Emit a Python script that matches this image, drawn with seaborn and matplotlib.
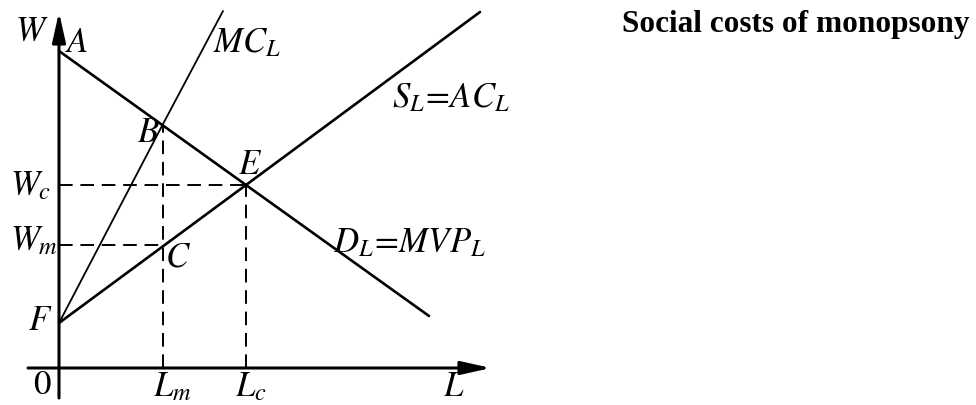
import seaborn as sns
import pandas as pd
import matplotlib.pyplot as plt

sns.set_style("white")
plt.rcParams["mathtext.fontset"] = "stix"
plt.rcParams["font.family"] = ["Liberation Serif", "DejaVu Serif"]
plt.rcParams["text.color"] = "black"

# key points of the diagram (arbitrary units)
F = 4.5       # intercept of supply and MC
A = 31.7      # intercept of demand
Lm = 10.4
Lc = 18.7
Wm = 12.3
Wc = 18.3
B = 24.4      # MC = demand at Lm

# curve endpoints
supply_x = [0, Lc, 42.1]
supply_y = [F, Wc, 35.6]
demand_x = [0, Lc, 37.0]
demand_y = [A, Wc, 5.2]
mc_x = [0, Lm, 16.4]
mc_y = [F, B, 35.7]

fig = plt.figure(figsize=(9.76, 4.05), dpi=100)
ax = fig.add_axes([0, 0, 1, 1])
ax.set_xlim(-5.9, 91.7)
ax.set_ylim(-3.7, 36.8)
ax.axis("off")

# axes with arrows
arrow = dict(arrowstyle="-|>,head_length=0.9,head_width=0.2", lw=2.2,
             color="black", mutation_scale=20, shrinkA=0, shrinkB=0)
ax.annotate("", xy=(0, 35.6), xytext=(0, -3.0), arrowprops=arrow)
ax.annotate("", xy=(43.2, 0), xytext=(-3.1, 0), arrowprops=arrow)

sns.lineplot(x=supply_x, y=supply_y, sort=False, color="black", linewidth=1.9, ax=ax)
sns.lineplot(x=demand_x, y=demand_y, sort=False, color="black", linewidth=1.9, ax=ax)
sns.lineplot(x=mc_x, y=mc_y, sort=False, color="black", linewidth=1.3, ax=ax)

dash = (0, (7, 4))
ax.plot([0, Lc], [Wc, Wc], color="black", lw=1.4, linestyle=dash)
ax.plot([0, Lm], [Wm, Wm], color="black", lw=1.4, linestyle=dash)
ax.plot([Lm, Lm], [0, B], color="black", lw=1.4, linestyle=dash)
ax.plot([Lc, Lc], [0, Wc], color="black", lw=1.4, linestyle=dash)

fs = 25
ax.text(-2.7, 33.6, "$W$", fontsize=fs, ha="center", va="center")
ax.text(1.8, 32.5, "$A$", fontsize=fs, ha="center", va="center")
ax.text(15.4, 31.6, "$MC_L$", fontsize=fs, ha="left", va="baseline")
ax.text(8.9, 23.4, "$B$", fontsize=fs, ha="center", va="center")
ax.text(19.1, 20.2, "$E$", fontsize=fs, ha="center", va="center")
ax.text(11.9, 11.0, "$C$", fontsize=fs, ha="center", va="center")
ax.text(-1.9, 4.7, "$F$", fontsize=fs, ha="center", va="center")
ax.text(-1.7, -1.8, "$0$", fontsize=fs, ha="center", va="center")
ax.text(-4.9, 17.3, "$W_c$", fontsize=fs, ha="left", va="baseline")
ax.text(-4.9, 11.8, "$W_m$", fontsize=fs, ha="left", va="baseline")
ax.text(9.4, -2.8, "$L_m$", fontsize=fs, ha="left", va="baseline")
ax.text(17.6, -2.8, "$L_c$", fontsize=fs, ha="left", va="baseline")
ax.text(38.4, -2.8, "$L$", fontsize=fs, ha="left", va="baseline")
ax.text(33.3, 26.1, r"$S_L\!=\!AC_L$", fontsize=fs, ha="left", va="baseline")
ax.text(27.4, 11.6, r"$D_L\!=\!MVP_L$", fontsize=fs, ha="left", va="baseline")

fig.text(796 / 976, 1 - 32 / 405, "Social costs of monopsony", fontsize=22.5,
         fontweight="bold", ha="center", va="baseline")

fig.savefig("out.png", dpi=100)
